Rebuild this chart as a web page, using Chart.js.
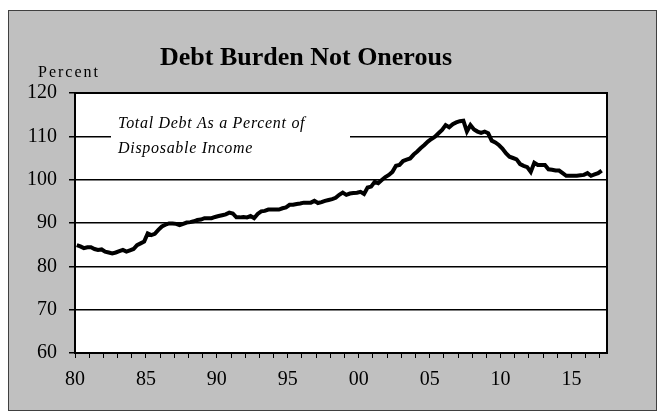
<!DOCTYPE html>
<html><head><meta charset="utf-8">
<script src="https://cdn.jsdelivr.net/npm/chart.js@4/dist/chart.umd.min.js"></script>
<style>html,body{margin:0;padding:0;background:#fff;}#wrap{width:665px;height:413px;position:relative;}</style>
</head><body><div id="wrap"><canvas id="c" width="665" height="413"></canvas></div>
<script>
// Quarterly data, 1980Q1 .. 2017Q1 (four values per year)
const startYear = 1980;
const debtRatio = [
  84.9, 84.6, 84.2, 84.4,   // 1980
  84.4, 84.0, 83.8, 83.9,   // 1981
  83.4, 83.2, 83.0, 83.2,   // 1982
  83.5, 83.8, 83.4, 83.7,   // 1983
  84.0, 84.9, 85.3, 85.7,   // 1984
  87.6, 87.2, 87.5, 88.4,   // 1985
  89.2, 89.6, 89.9, 89.9,   // 1986
  89.8, 89.5, 89.8, 90.1,   // 1987
  90.2, 90.4, 90.7, 90.8,   // 1988
  91.1, 91.1, 91.1, 91.4,   // 1989
  91.6, 91.8, 92.0, 92.4,   // 1990
  92.2, 91.3, 91.3, 91.4,   // 1991
  91.3, 91.6, 91.1, 92.1,   // 1992
  92.7, 92.8, 93.1, 93.1,   // 1993
  93.1, 93.1, 93.4, 93.6,   // 1994
  94.2, 94.2, 94.4, 94.5,   // 1995
  94.7, 94.7, 94.7, 95.1,   // 1996
  94.6, 94.8, 95.1, 95.3,   // 1997
  95.5, 95.8, 96.5, 97.0,   // 1998
  96.5, 96.8, 96.9, 97.0,   // 1999
  97.2, 96.7, 98.2, 98.4,   // 2000
  99.5, 99.2, 99.9, 100.6,  // 2001
  101.1, 101.8, 103.2, 103.4, // 2002
  104.3, 104.6, 104.9, 105.8, // 2003
  106.5, 107.3, 108.0, 108.8, // 2004
  109.4, 109.9, 110.7, 111.5, // 2005
  112.6, 112.1, 112.8, 113.2, // 2006
  113.5, 113.6, 111.1, 112.6, // 2007
  111.6, 111.1, 110.8, 111.1, // 2008
  110.7, 109.0, 108.6, 108.0, // 2009
  107.2, 106.1, 105.3, 105.0, // 2010
  104.7, 103.6, 103.2, 102.9, // 2011
  101.8, 103.9, 103.4, 103.4, // 2012
  103.4, 102.4, 102.3, 102.1, // 2013
  102.1, 101.5, 100.9, 100.9, // 2014
  100.9, 100.9, 101.0, 101.1, // 2015
  101.5, 100.9, 101.2, 101.5, // 2016
  102.1                       // 2017
];
const xTickYears = [1980,1981,1982,1983,1984,1985,1986,1987,1988,1989,1990,1991,1992,1993,1994,1995,1996,1997,1998,1999,
  2000,2001,2002,2003,2004,2005,2006,2007,2008,2009,2010,2011,2012,2013,2014,2015,2016,2017];
const yTicks = [60,70,80,90,100,110,120];
const chartTitle = 'Debt Burden Not Onerous';
const yUnit = 'Percent';
const seriesNote = ['Total Debt As a Percent of', 'Disposable Income'];

// quarter i is centred inside its quarter of the year
const points = debtRatio.map((v, i) => ({x: startYear + (i + 0.5) / 4, y: v}));

const SERIF = "'Liberation Serif', 'Times New Roman', serif";

const frame = {
  id: 'frame',
  beforeDraw(chart) {
    const ctx = chart.ctx, a = chart.chartArea;
    ctx.save();
    ctx.fillStyle = '#fff';
    ctx.fillRect(0, 0, chart.width, chart.height);
    ctx.fillStyle = '#c0c0c0';
    ctx.fillRect(8, 10, 649, 401);
    ctx.strokeStyle = '#404040';
    ctx.lineWidth = 1;
    ctx.strokeRect(8.5, 10.5, 648, 400);
    ctx.fillStyle = '#fff';
    ctx.fillRect(a.left, a.top, a.right - a.left, a.bottom - a.top);
    ctx.restore();
  },
  beforeDatasetsDraw(chart) {
    const ctx = chart.ctx, a = chart.chartArea, ys = chart.scales.y;
    ctx.save();
    // white text box over the gridline
    const y110 = ys.getPixelForValue(110);
    ctx.fillStyle = '#fff';
    ctx.fillRect(a.left + 36, y110 - 28, 239, 50);
    ctx.fillStyle = '#000';
    ctx.font = 'italic 16px ' + SERIF;
    ctx.letterSpacing = '0.7px';
    ctx.textBaseline = 'middle';
    ctx.textAlign = 'left';
    ctx.fillText(seriesNote[0], a.left + 43, y110 - 13);
    ctx.fillText(seriesNote[1], a.left + 43, y110 + 12);
    ctx.restore();
  },
  afterDraw(chart) {
    const ctx = chart.ctx, a = chart.chartArea;
    ctx.save();
    ctx.strokeStyle = '#000';
    ctx.lineWidth = 2;
    ctx.strokeRect(a.left, a.top, a.right - a.left, a.bottom - a.top);
    ctx.fillStyle = '#000';
    ctx.textBaseline = 'middle';
    ctx.textAlign = 'center';
    ctx.font = 'bold 26px ' + SERIF;
    ctx.fillText(chartTitle, 306, 58);
    ctx.textAlign = 'left';
    ctx.font = '16px ' + SERIF;
    ctx.letterSpacing = '2px';
    ctx.fillText(yUnit, 38, 73);
    ctx.restore();
  }
};

new Chart(document.getElementById('c'), {
  type: 'line',
  data: {
    datasets: [{
      data: points,
      borderColor: '#000',
      borderWidth: 4,
      pointRadius: 0,
      tension: 0,
      fill: false
    }]
  },
  options: {
    responsive: false,
    animation: false,
    devicePixelRatio: 1,
    layout: {padding: {left: 0, right: 58, top: 93, bottom: 0}},
    plugins: {legend: {display: false}, title: {display: false}, tooltip: {enabled: false}},
    scales: {
      x: {
        type: 'linear', min: 1980, max: 2017.5,
        afterBuildTicks: s => { s.ticks = xTickYears.map(v => ({value: v})); },
        afterFit: s => { s.height = 60; },
        grid: {drawOnChartArea: false, drawTicks: true, tickLength: 5, color: '#000', lineWidth: 1},
        border: {display: false},
        ticks: {
          autoSkip: false, maxRotation: 0, minRotation: 0, padding: 10, color: '#000',
          font: {family: SERIF, size: 20},
          callback: v => (v % 5 === 0 ? String(v % 100).padStart(2, '0') : '')
        }
      },
      y: {
        min: 60, max: 120,
        afterBuildTicks: s => { s.ticks = yTicks.map(v => ({value: v})); },
        afterFit: s => { s.width = 75; },
        grid: {color: '#000', lineWidth: 1.5, drawTicks: true, tickLength: 6},
        border: {display: false},
        ticks: {padding: 12, color: '#000', font: {family: SERIF, size: 20}}
      }
    }
  },
  plugins: [frame]
});
</script>
</body></html>
